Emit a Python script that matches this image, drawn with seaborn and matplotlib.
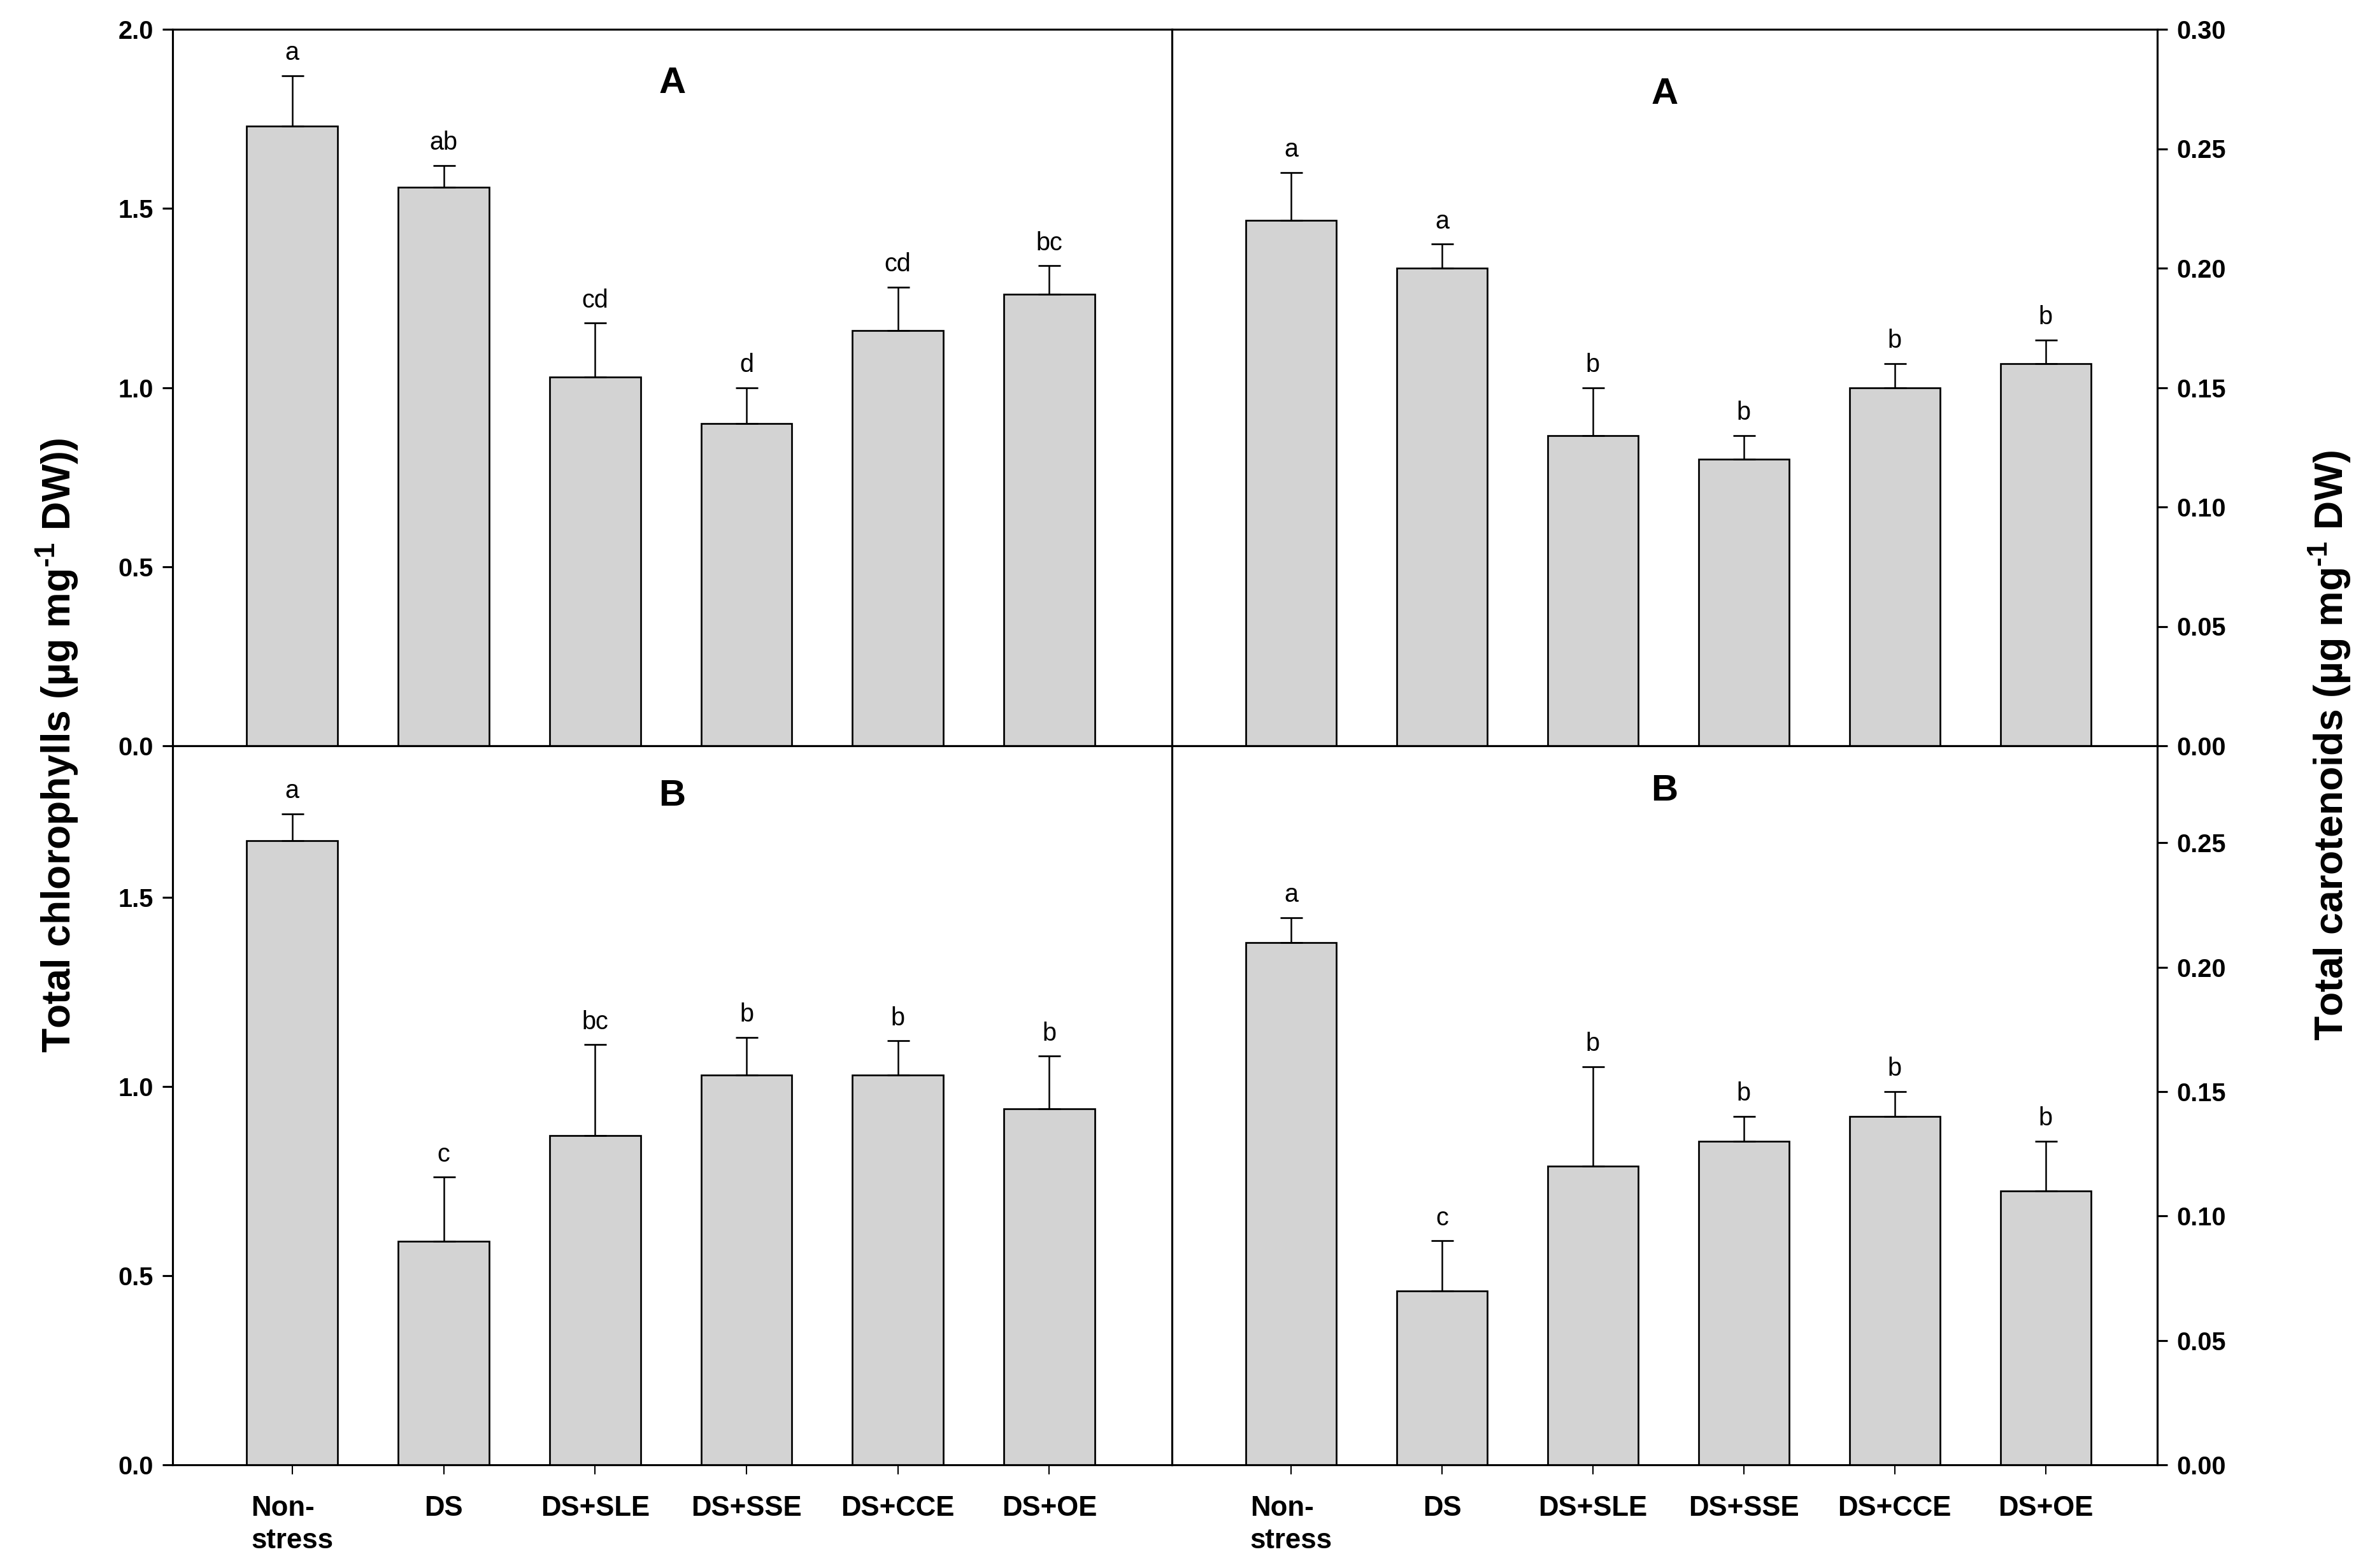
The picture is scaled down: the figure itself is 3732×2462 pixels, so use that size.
import numpy as np
import pandas as pd
import seaborn as sns
import matplotlib.pyplot as plt

# valeurs
categories = ["Non-\nstress", "DS", "DS+SLE", "DS+SSE", "DS+CCE", "DS+OE"]

chl_A = [1.73, 1.56, 1.03, 0.90, 1.16, 1.26]
chl_A_err = [0.14, 0.06, 0.15, 0.10, 0.12, 0.08]
chl_A_lettres = ["a", "ab", "cd", "d", "cd", "bc"]

car_A = [0.220, 0.200, 0.130, 0.120, 0.150, 0.160]
car_A_err = [0.020, 0.010, 0.020, 0.010, 0.010, 0.010]
car_A_lettres = ["a", "a", "b", "b", "b", "b"]

chl_B = [1.65, 0.59, 0.87, 1.03, 1.03, 0.94]
chl_B_err = [0.07, 0.17, 0.24, 0.10, 0.09, 0.14]
chl_B_lettres = ["a", "c", "bc", "b", "b", "b"]

car_B = [0.210, 0.070, 0.120, 0.130, 0.140, 0.110]
car_B_err = [0.010, 0.020, 0.040, 0.010, 0.010, 0.020]
car_B_lettres = ["a", "c", "b", "b", "b", "b"]

sns.set_style("ticks", {"axes.edgecolor": "black", "text.color": "black",
                        "axes.labelcolor": "black", "xtick.color": "black",
                        "ytick.color": "black"})
narrow = ["Liberation Sans Narrow", "Liberation Sans", "DejaVu Sans"]
plt.rcParams["font.family"] = narrow
plt.rcParams["axes.linewidth"] = 0.75
plt.rcParams["mathtext.fontset"] = "custom"
plt.rcParams["mathtext.rm"] = "Liberation Sans:bold"
plt.rcParams["mathtext.bf"] = "Liberation Sans:bold"
plt.rcParams["mathtext.default"] = "rm"

W, H = 3732, 2462
fig = plt.figure(figsize=(W / 300, H / 300), dpi=300)

x_g, x_m, x_d = 271 / W, 1840 / W, 3387 / W
y_h, y_m, y_b = 1 - 46 / H, 1 - 1171 / H, 1 - 2300 / H

ax_hg = fig.add_axes([x_g, y_m, x_m - x_g, y_h - y_m])
ax_hd = fig.add_axes([x_m, y_m, x_d - x_m, y_h - y_m])
ax_bg = fig.add_axes([x_g, y_b, x_m - x_g, y_m - y_b])
ax_bd = fig.add_axes([x_m, y_b, x_d - x_m, y_m - y_b])


def tracer(ax, valeurs, erreurs, lettres, ymax, yticks, fmt, cote, bas, titre, y_titre, xmax):
    df = pd.DataFrame({"traitement": categories, "valeur": valeurs})
    sns.barplot(data=df, x="traitement", y="valeur", order=categories, color="#D3D3D3",
                edgecolor="black", linewidth=0.65, width=0.6, saturation=1, ax=ax)
    x = np.arange(len(categories))
    ax.errorbar(x, valeurs, yerr=[np.zeros(len(x)), erreurs], fmt="none", ecolor="black",
                elinewidth=0.6, capsize=4.2, capthick=0.65, zorder=3)
    for xi, v, e, l in zip(x, valeurs, erreurs, lettres):
        ax.annotate(l, (xi, v + e), xytext=(0, 4), textcoords="offset points",
                    ha="center", va="bottom", fontsize=9.5, color="black")
    ax.set_xlim(-0.79, xmax)
    ax.set_ylim(0, ymax)
    ax.set_yticks(yticks)
    ax.set_yticklabels([fmt.format(t) for t in yticks], fontweight="bold", fontsize=9.5)
    ax.set_xlabel("")
    ax.set_ylabel("")
    for s in ax.spines.values():
        s.set_visible(True)
        s.set_linewidth(0.75)
        s.set_color("black")
    ax.tick_params(axis="y", direction="out", length=3.8, width=0.75, colors="black")
    if cote == "droite":
        ax.yaxis.tick_right()
        ax.tick_params(axis="y", left=False, right=True)
    if bas:
        ax.set_xticks(x)
        ax.set_xticklabels(categories, fontweight="bold", fontsize=10.5,
                           linespacing=1.3, multialignment="left", va="top")
        ax.tick_params(axis="x", direction="out", length=3.6, width=0.5, pad=8, colors="black")
    else:
        ax.tick_params(axis="x", bottom=False, labelbottom=False)
    ax.text(0.5, y_titre, titre, transform=ax.transAxes, ha="center", va="center",
            fontsize=14, fontweight="bold", color="black",
            family=["Liberation Sans", "DejaVu Sans"])


tracer(ax_hg, chl_A, chl_A_err, chl_A_lettres, 2.0, [0.0, 0.5, 1.0, 1.5, 2.0],
       "{:.1f}", "gauche", False, "A", 0.924, 5.81)
tracer(ax_hd, car_A, car_A_err, car_A_lettres, 0.30, [0.0, 0.05, 0.10, 0.15, 0.20, 0.25, 0.30],
       "{:.2f}", "droite", False, "A", 0.909, 5.74)
tracer(ax_bg, chl_B, chl_B_err, chl_B_lettres, 1.9, [0.0, 0.5, 1.0, 1.5],
       "{:.1f}", "gauche", True, "B", 0.930, 5.81)
tracer(ax_bd, car_B, car_B_err, car_B_lettres, 0.289, [0.0, 0.05, 0.10, 0.15, 0.20, 0.25],
       "{:.2f}", "droite", True, "B", 0.937, 5.74)

fig.text(90 / W, y_m, "Total chlorophylls (\u00b5g mg$^{\\text{-1}}$ DW))", rotation=90,
         ha="center", va="center", fontsize=15, fontweight="bold", color="black",
         family=["Liberation Sans", "DejaVu Sans"])
fig.text(3658 / W, y_m, "Total carotenoids (\u00b5g mg$^{\\text{-1}}$ DW)", rotation=90,
         ha="center", va="center", fontsize=15, fontweight="bold", color="black",
         family=["Liberation Sans", "DejaVu Sans"])

fig.savefig("out.png", dpi=300)
